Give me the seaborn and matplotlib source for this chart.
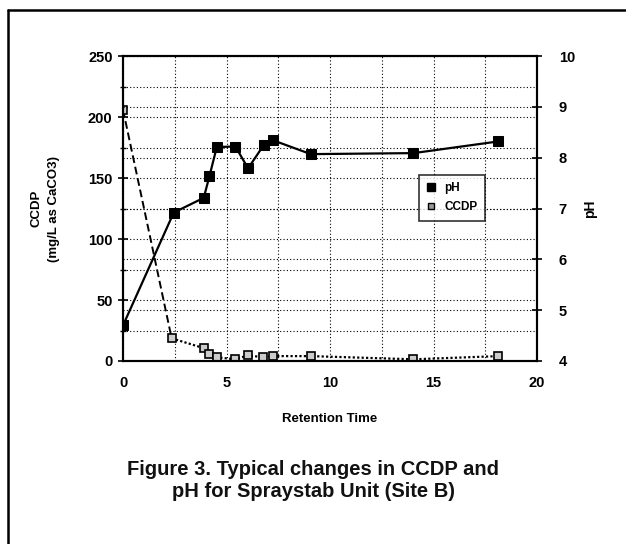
import numpy as np
import pandas as pd
import seaborn as sns
import matplotlib.pyplot as plt
from matplotlib.lines import Line2D
from matplotlib.ticker import MultipleLocator

# values
ph_time = [0, 2.45, 3.9, 4.17, 4.53, 5.43, 6.04, 6.8, 7.26, 9.07, 14.03, 18.13]
ph_vals = [4.7, 6.92, 7.21, 7.63, 8.21, 8.22, 7.79, 8.25, 8.34, 8.07, 8.09, 8.32]

ccdp_time = [0, 2.35, 3.93, 4.17, 4.56, 5.41, 6.05, 6.78, 7.26, 9.08, 14.03, 18.13]
ccdp_vals = [206, 18.6, 10.4, 5.7, 3.0, 1.4, 4.6, 3.0, 4.0, 4.0, 1.4, 4.0]

ph = pd.DataFrame({'time': ph_time, 'pH': ph_vals})
ccdp = pd.DataFrame({'time': ccdp_time, 'CCDP': ccdp_vals})

sns.set_style("white")
plt.rcParams['font.family'] = ['Liberation Sans', 'DejaVu Sans']
plt.rcParams.update({'text.color': 'black', 'axes.labelcolor': 'black',
                     'xtick.color': 'black', 'ytick.color': 'black'})

fig = plt.figure(figsize=(6.26, 5.44), dpi=100)
ax1 = fig.add_axes([0.1965, 0.3364, 0.6615, 0.5606])
ax2 = ax1.twinx()

# CCDP: dashed first drop then dotted tail, open squares
sns.lineplot(data=ccdp.iloc[:2], x='time', y='CCDP', ax=ax1, color='black',
             linestyle=(0, (4, 2)), linewidth=1.4, sort=False)
sns.lineplot(data=ccdp.iloc[1:], x='time', y='CCDP', ax=ax1, color='black',
             linestyle=(0, (1, 1)), linewidth=1.6, sort=False)
sns.lineplot(data=ccdp, x='time', y='CCDP', ax=ax1, color='black', linestyle='none',
             marker='s', markersize=5.5, markerfacecolor='#cccccc', markeredgecolor='black',
             markeredgewidth=1.2, sort=False)

# pH: solid line, filled squares
sns.lineplot(data=ph, x='time', y='pH', ax=ax2, color='black', linewidth=1.6,
             marker='s', markersize=7.5, markerfacecolor='black', markeredgecolor='black',
             sort=False)

ax1.set_xlim(0, 20)
ax1.set_ylim(0, 250)
ax2.set_ylim(4, 10)

ax1.xaxis.set_major_locator(MultipleLocator(5))
ax1.xaxis.set_minor_locator(MultipleLocator(2.5))
ax1.yaxis.set_major_locator(MultipleLocator(50))
ax1.yaxis.set_minor_locator(MultipleLocator(25))
ax2.yaxis.set_major_locator(MultipleLocator(1))

grid_kw = dict(color='black', linestyle=(0, (1, 2)), linewidth=0.8)
ax1.grid(True, which='both', axis='x', **grid_kw)
ax1.grid(True, which='both', axis='y', **grid_kw)
ax2.grid(True, which='major', axis='y', **grid_kw)
ax1.set_axisbelow(True)

for a in (ax1, ax2):
    for s in a.spines.values():
        s.set_linewidth(1.5)
        s.set_color('black')

ax1.tick_params(axis='both', which='major', direction='inout', length=7, width=1.2,
                labelsize=10.5)
ax1.tick_params(axis='x', which='major', pad=7)
ax1.tick_params(axis='y', which='major', pad=4)
ax1.tick_params(axis='both', which='minor', direction='inout', length=5, width=1)
ax2.tick_params(axis='y', which='major', direction='inout', length=7, width=1.2,
                labelsize=10.5, pad=12)
for lab in ax1.get_xticklabels() + ax1.get_yticklabels() + ax2.get_yticklabels():
    lab.set_fontweight('bold')

ax1.set_xlabel('Retention Time', fontsize=9.5, fontweight='bold', labelpad=17)
ax1.set_ylabel('CCDP\n(mg/L as CaCO3)', fontsize=9.5, fontweight='bold', labelpad=20,
               linespacing=1.6)
ax2.set_ylabel('pH', fontsize=10, fontweight='bold', labelpad=6)

handles = [Line2D([], [], color='black', marker='s', linestyle='none', markersize=6),
           Line2D([], [], color='black', marker='s', linestyle='none', markersize=5,
                  markerfacecolor='#999999')]
leg = ax2.legend(handles, ['pH', 'CCDP'], loc='upper left',
                 bbox_to_anchor=(0.7, 0.63), frameon=True, fancybox=False,
                 edgecolor='black', handlelength=0.8, handletextpad=0.7,
                 borderpad=0.65, labelspacing=0.55,
                 prop={'weight': 'bold', 'size': 8.5})
leg.get_frame().set_linewidth(1.2)

fig.text(0.5, 0.117, 'Figure 3. Typical changes in CCDP and\npH for Spraystab Unit (Site B)',
         ha='center', va='center', fontsize=14.5, fontweight='bold',
         linespacing=1.2, color='#111111')

# partial frame around the figure (top and left edges)
fig.add_artist(Line2D([8 / 626, 1.0], [1 - 10 / 544] * 2, color='black', linewidth=1.8,
                      transform=fig.transFigure))
fig.add_artist(Line2D([8 / 626] * 2, [0.0, 1 - 10 / 544], color='black', linewidth=1.8,
                      transform=fig.transFigure))

fig.savefig('out.png', dpi=100)
